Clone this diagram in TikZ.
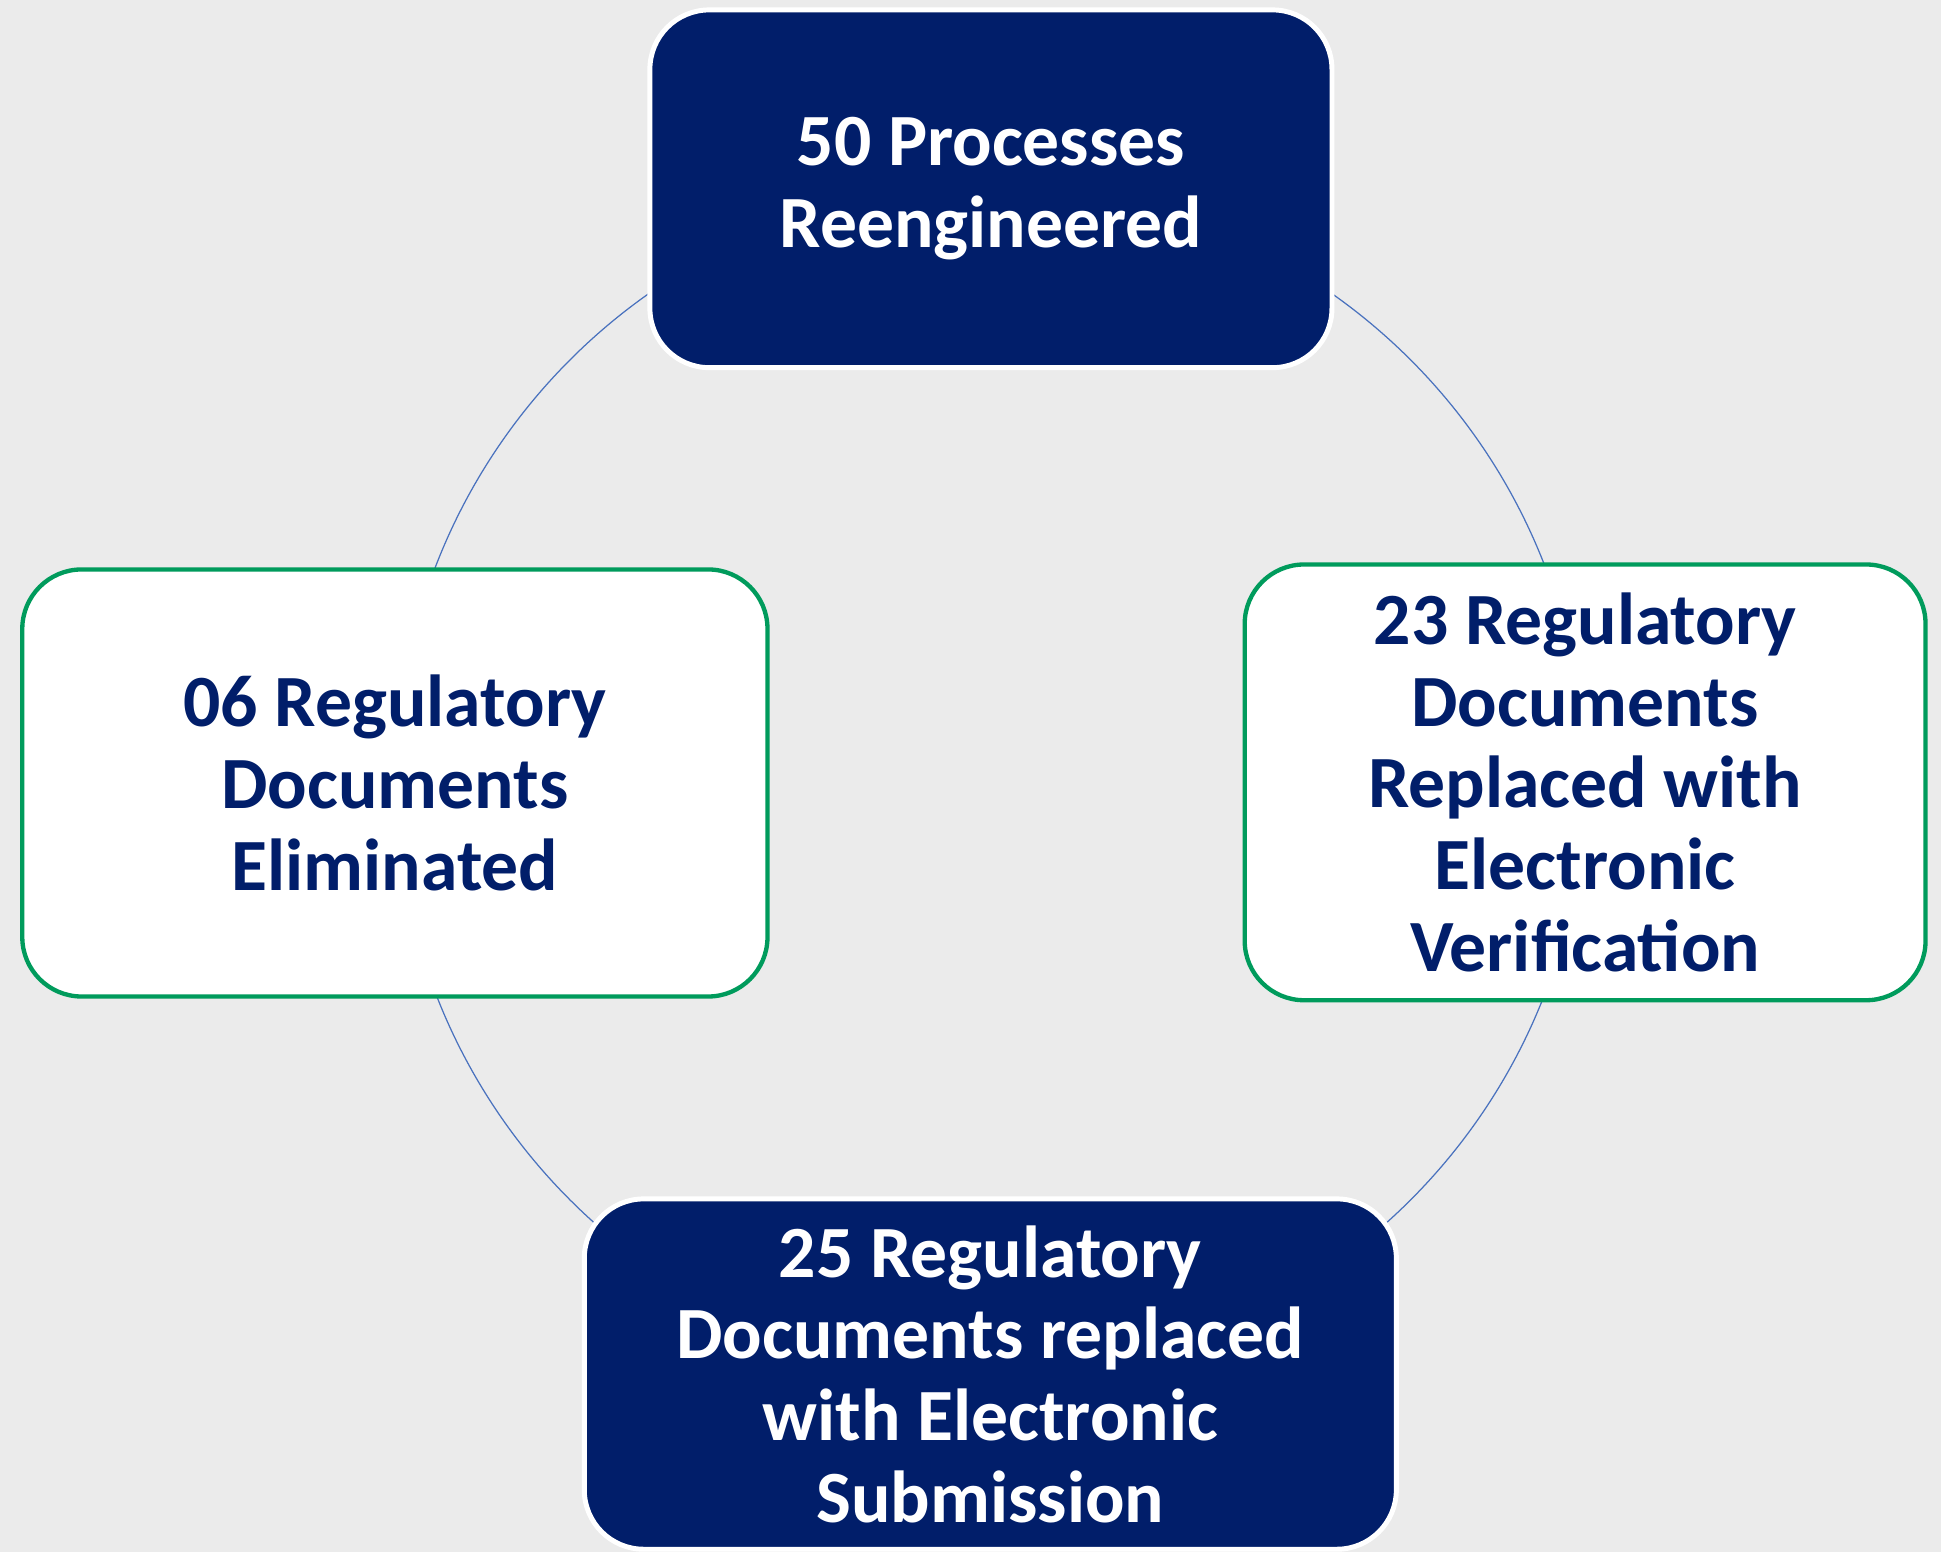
\documentclass[tikz,border=0pt]{standalone}
\usepackage{fontspec}
\setmainfont{Carlito}
\definecolor{navy}{RGB}{1,30,106}
\definecolor{gborder}{RGB}{0,155,92}
\definecolor{bg}{RGB}{235,235,235}
\definecolor{ring}{RGB}{74,114,190}
\begin{document}
\begin{tikzpicture}[x=1pt,y=-1pt,
  box/.style={rectangle, rounded corners=48pt, inner sep=0pt, align=center,
    font=\fontsize{59.5}{66}\selectfont\bfseries},
  darkbox/.style={box, fill=navy, draw=white, line width=4pt, text=white},
  lightbox/.style={box, fill=white, draw=gborder, line width=3.5pt, text=navy}]
\fill[bg] (0,0) rectangle (1568,1254);
\useasboundingbox (0,0) rectangle (1568,1254);
\coordinate (c) at (800,630);
\draw[ring, line width=1pt] (c) circle[radius=480];
\node[darkbox, minimum width=551pt, minimum height=289pt] (top) at (800.5,152.5)
  {50 Processes\\Reengineered};
\node[lightbox, minimum width=602pt, minimum height=345pt] (left) at (319,632.5)
  {06 Regulatory\\Documents\\Eliminated};
\node[lightbox, minimum width=550pt, minimum height=352pt] (right) at (1280.5,632)
  {23 Regulatory\\Documents\\Replaced with\\Electronic\\Verification};
\node[darkbox, minimum width=656pt, minimum height=283pt] (bottom) at (800,1110)
  {25 Regulatory\\Documents replaced\\with Electronic\\Submission};
\end{tikzpicture}
\end{document}
